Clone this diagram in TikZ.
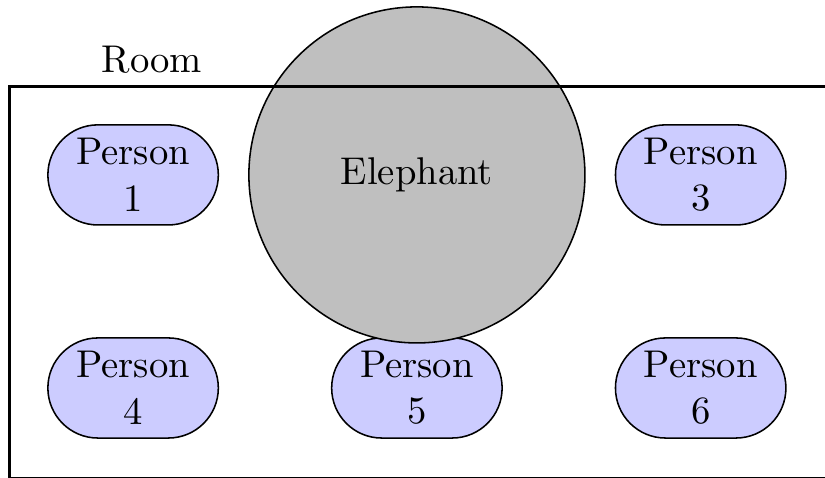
\documentclass[tikz,border=0pt]{standalone}
\usepackage{tikz}
\usetikzlibrary{positioning,shapes.misc,shapes.geometric}
\tikzstyle{person} = [rounded rectangle, minimum width=1.62cm, minimum height=0.91cm, align=center, draw=black, fill=blue!20, inner sep=1pt]
\tikzstyle{elephant} = [circle, minimum size=3.055cm, draw=black, fill=gray!50]
\tikzstyle{room} = [rectangle, thick, draw=black, minimum width=8cm, minimum height=3.562cm, anchor=north west]

\begin{document}
\begin{tikzpicture}[node distance=2.58cm]
\useasboundingbox (0,0) rectangle (7.5,4.345);
 \node (p1) [person] at (1.21,2.755) {Person\\1};
  \node (p4) [person,below of=p1,yshift=0.643cm] {Person\\4};
  \node (p5) [person,right of=p4] {Person\\5};
  \node (p6) [person,right of=p5] {Person\\6};
  \node (p3) [person,above of=p6,yshift=-0.643cm] {Person\\3};
\node (ele) [elephant,right of=p1] {Elephant};
% walls go over the elephant
\node (walls) [room] at (0.073,3.573) {};
\node (label) at (1.38,3.80) {Room};
  \end{tikzpicture}
\end{document}
